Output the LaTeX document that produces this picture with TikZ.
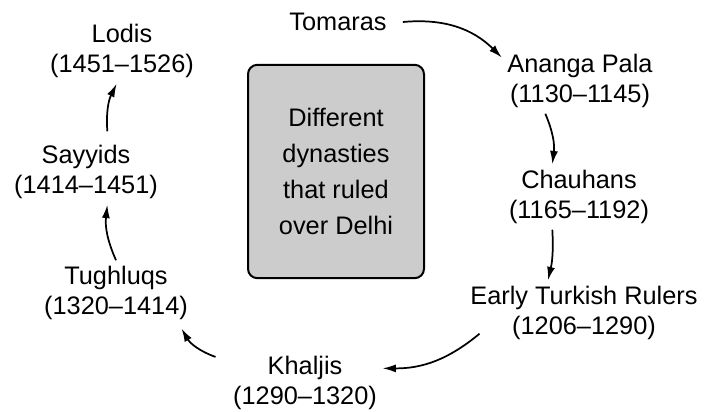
\documentclass[tikz,border=0pt]{standalone}
\usepackage{fontspec}
\setmainfont{Liberation Sans}
\usetikzlibrary{arrows.meta}

\def\px{0.75pt}

\begin{document}
\begin{tikzpicture}[x=\px, y=-\px,
    every node/.style={font=\fontsize{19}{23}\selectfont, align=center, inner sep=4pt},
    dynbox/.style={draw, line width=1.5pt, rounded corners=7pt, fill=black!20,
      minimum width=132pt, minimum height=160pt, font=\fontsize{19}{27}\selectfont},
    link/.style={-{Latex[length=10pt,width=6pt]}, line width=1.3pt, bend left=#1},
    link/.default=20]
      \useasboundingbox (0,0) rectangle (704,411);
      \node[dynbox] (box) at (336,171.5) {Different\\dynasties\\that ruled\\over Delhi};
      \node[anchor=center] (tom) at (338,22) {Tomaras};
      \node[anchor=center] (ana) at (580,81) {Ananga Pala\\(1130–1145)};
      \node[anchor=center] (cha) at (579,197) {Chauhans\\(1165–1192)};
      \node[anchor=center] (ear) at (584,313) {Early Turkish Rulers\\(1206–1290)};
      \node[anchor=center] (kha) at (305,383) {Khaljis\\(1290–1320)};
      \node[anchor=center] (tug) at (116,293) {Tughluqs\\(1320–1414)};
      \node[anchor=center] (say) at (86,172) {Sayyids\\(1414–1451)};
      \node[anchor=center] (lod) at (122,51) {Lodis\\(1451–1526)};
      \draw[link=25] ([xshift=8pt]tom.east) to ([yshift=-7pt]ana.north west);
      \draw[link=15] ([xshift=-26pt]ana.south) to ([xshift=-20pt]cha.north);
      \draw[link=8] ([xshift=-20pt]cha.south) to ([xshift=-27pt]ear.north);
      \draw[link=20] ([xshift=11pt,yshift=9pt]ear.south west) to ([yshift=11pt]kha.east);
      \draw[link=20] ([xshift=-9pt,yshift=-5pt]kha.north west) to ([xshift=-9pt,yshift=-2pt]tug.south east);
      \draw[link=15] (tug.north) to ([xshift=16pt]say.south);
      \draw[link=15] ([xshift=16pt,yshift=6pt]say.north) to ([xshift=-4pt]lod.south);
\end{tikzpicture}
\end{document}
